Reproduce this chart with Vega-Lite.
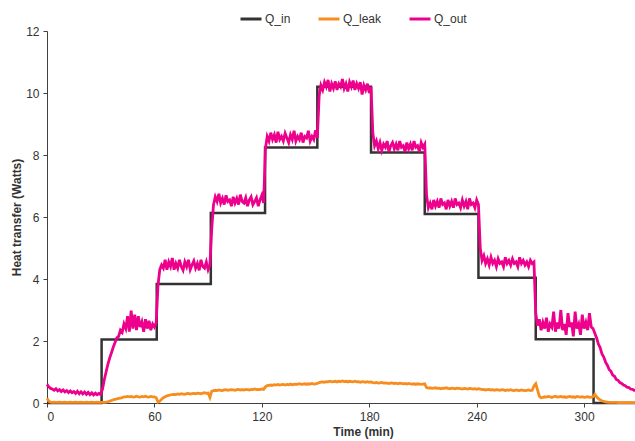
{
  "$schema": "https://vega.github.io/schema/vega-lite/v6.json",
  "width": 589,
  "height": 372,
  "autosize": {"type": "none"},
  "padding": {"left": 47, "top": 31, "right": 0, "bottom": 38},
  "background": "white",
  "config": {
    "view": {"stroke": null},
    "font": "Liberation Sans",
    "axis": {
      "grid": false,
      "domainColor": "#404040",
      "tickColor": "#404040",
      "tickSize": 4,
      "labelColor": "#333333",
      "labelFontSize": 12,
      "labelFont": "Liberation Sans",
      "titleFont": "Liberation Sans",
      "titleFontSize": 12,
      "titleFontWeight": "bold",
      "titleColor": "#333333"
    },
    "legend": {
      "labelFont": "Liberation Sans",
      "labelFontSize": 12,
      "labelColor": "#333333",
      "padding": 0
    }
  },
  "datasets": {
    "qin": [
      {"t": 0, "Q_in": 0},
      {"t": 30.5, "Q_in": 2.05},
      {"t": 61.3, "Q_in": 3.84},
      {"t": 91.5, "Q_in": 6.13},
      {"t": 121.8, "Q_in": 8.24},
      {"t": 151, "Q_in": 10.2},
      {"t": 181, "Q_in": 8.08},
      {"t": 211, "Q_in": 6.1},
      {"t": 241, "Q_in": 4.04},
      {"t": 273, "Q_in": 2.06},
      {"t": 305.3, "Q_in": 0},
      {"t": 329, "Q_in": 0}
    ],
    "noisy": [
      {"t":0,"Q_leak":0.15,"Q_out":0.60},{"t":1,"Q_leak":0.06,"Q_out":0.52},{"t":2,"Q_leak":0.03,"Q_out":0.47},{"t":3,"Q_leak":0.02,"Q_out":0.45},{"t":4,"Q_leak":0.03,"Q_out":0.41},{"t":5,"Q_leak":0.02,"Q_out":0.46},{"t":6,"Q_leak":0.02,"Q_out":0.39},{"t":7,"Q_leak":0.03,"Q_out":0.43},{"t":8,"Q_leak":0.02,"Q_out":0.37},{"t":9,"Q_leak":0.02,"Q_out":0.42},
      {"t":10,"Q_leak":0.03,"Q_out":0.36},{"t":11,"Q_leak":0.02,"Q_out":0.40},{"t":12,"Q_leak":0.02,"Q_out":0.34},{"t":13,"Q_leak":0.03,"Q_out":0.39},{"t":14,"Q_leak":0.02,"Q_out":0.33},{"t":15,"Q_leak":0.02,"Q_out":0.37},{"t":16,"Q_leak":0.03,"Q_out":0.31},{"t":17,"Q_leak":0.02,"Q_out":0.38},{"t":18,"Q_leak":0.02,"Q_out":0.30},{"t":19,"Q_leak":0.03,"Q_out":0.36},
      {"t":20,"Q_leak":0.02,"Q_out":0.29},{"t":21,"Q_leak":0.02,"Q_out":0.35},{"t":22,"Q_leak":0.03,"Q_out":0.28},{"t":23,"Q_leak":0.02,"Q_out":0.34},{"t":24,"Q_leak":0.02,"Q_out":0.27},{"t":25,"Q_leak":0.03,"Q_out":0.33},{"t":26,"Q_leak":0.02,"Q_out":0.26},{"t":27,"Q_leak":0.02,"Q_out":0.32},{"t":28,"Q_leak":0.03,"Q_out":0.27},{"t":29,"Q_leak":0.02,"Q_out":0.31},
      {"t":30,"Q_leak":0.02,"Q_out":0.28},{"t":31,"Q_leak":0.02,"Q_out":0.45},{"t":32,"Q_leak":0.02,"Q_out":0.75},{"t":33,"Q_leak":0.03,"Q_out":1.00},{"t":34,"Q_leak":0.04,"Q_out":1.25},{"t":35,"Q_leak":0.06,"Q_out":1.45},{"t":36,"Q_leak":0.08,"Q_out":1.62},{"t":37,"Q_leak":0.10,"Q_out":1.80},{"t":38,"Q_leak":0.12,"Q_out":1.95},{"t":39,"Q_leak":0.13,"Q_out":2.10},
      {"t":40,"Q_leak":0.15,"Q_out":2.15},{"t":41,"Q_leak":0.16,"Q_out":2.35},{"t":42,"Q_leak":0.17,"Q_out":2.28},{"t":43,"Q_leak":0.20,"Q_out":2.55},{"t":44,"Q_leak":0.20,"Q_out":2.40},{"t":45,"Q_leak":0.21,"Q_out":2.80},{"t":46,"Q_leak":0.20,"Q_out":2.30},{"t":47,"Q_leak":0.21,"Q_out":2.98},{"t":48,"Q_leak":0.19,"Q_out":2.40},{"t":49,"Q_leak":0.20,"Q_out":2.85},
      {"t":50,"Q_leak":0.22,"Q_out":2.35},{"t":51,"Q_leak":0.20,"Q_out":2.80},{"t":52,"Q_leak":0.19,"Q_out":2.45},{"t":53,"Q_leak":0.21,"Q_out":2.62},{"t":54,"Q_leak":0.20,"Q_out":2.30},{"t":55,"Q_leak":0.22,"Q_out":2.70},{"t":56,"Q_leak":0.20,"Q_out":2.40},{"t":57,"Q_leak":0.19,"Q_out":2.65},{"t":58,"Q_leak":0.21,"Q_out":2.35},{"t":59,"Q_leak":0.20,"Q_out":2.55},
      {"t":60,"Q_leak":0.20,"Q_out":2.45},{"t":61,"Q_leak":0.17,"Q_out":2.60},{"t":62,"Q_leak":0.03,"Q_out":3.80},{"t":63,"Q_leak":0.06,"Q_out":4.30},{"t":64,"Q_leak":0.12,"Q_out":4.45},{"t":65,"Q_leak":0.17,"Q_out":4.35},{"t":66,"Q_leak":0.20,"Q_out":4.62},{"t":67,"Q_leak":0.23,"Q_out":4.30},{"t":68,"Q_leak":0.25,"Q_out":4.55},{"t":69,"Q_leak":0.26,"Q_out":4.40},
      {"t":70,"Q_leak":0.27,"Q_out":4.68},{"t":71,"Q_leak":0.28,"Q_out":4.30},{"t":72,"Q_leak":0.27,"Q_out":4.50},{"t":73,"Q_leak":0.29,"Q_out":4.35},{"t":74,"Q_leak":0.28,"Q_out":4.62},{"t":75,"Q_leak":0.30,"Q_out":4.40},{"t":76,"Q_leak":0.29,"Q_out":4.28},{"t":77,"Q_leak":0.28,"Q_out":4.55},{"t":78,"Q_leak":0.30,"Q_out":4.40},{"t":79,"Q_leak":0.31,"Q_out":4.62},
      {"t":80,"Q_leak":0.29,"Q_out":4.30},{"t":81,"Q_leak":0.30,"Q_out":4.45},{"t":82,"Q_leak":0.31,"Q_out":4.58},{"t":83,"Q_leak":0.30,"Q_out":4.35},{"t":84,"Q_leak":0.32,"Q_out":4.50},{"t":85,"Q_leak":0.31,"Q_out":4.28},{"t":86,"Q_leak":0.30,"Q_out":4.62},{"t":87,"Q_leak":0.32,"Q_out":4.40},{"t":88,"Q_leak":0.33,"Q_out":4.35},{"t":89,"Q_leak":0.31,"Q_out":4.55},
      {"t":90,"Q_leak":0.32,"Q_out":4.30},{"t":91,"Q_leak":0.18,"Q_out":4.45},{"t":92,"Q_leak":0.38,"Q_out":5.60},{"t":93,"Q_leak":0.40,"Q_out":6.40},{"t":94,"Q_leak":0.41,"Q_out":6.65},{"t":95,"Q_leak":0.40,"Q_out":6.50},{"t":96,"Q_leak":0.42,"Q_out":6.75},{"t":97,"Q_leak":0.41,"Q_out":6.45},{"t":98,"Q_leak":0.40,"Q_out":6.60},{"t":99,"Q_leak":0.42,"Q_out":6.40},
      {"t":100,"Q_leak":0.43,"Q_out":6.70},{"t":101,"Q_leak":0.41,"Q_out":6.50},{"t":102,"Q_leak":0.42,"Q_out":6.55},{"t":103,"Q_leak":0.43,"Q_out":6.35},{"t":104,"Q_leak":0.42,"Q_out":6.65},{"t":105,"Q_leak":0.41,"Q_out":6.45},{"t":106,"Q_leak":0.43,"Q_out":6.60},{"t":107,"Q_leak":0.44,"Q_out":6.40},{"t":108,"Q_leak":0.42,"Q_out":6.72},{"t":109,"Q_leak":0.43,"Q_out":6.50},
      {"t":110,"Q_leak":0.42,"Q_out":6.45},{"t":111,"Q_leak":0.44,"Q_out":6.62},{"t":112,"Q_leak":0.43,"Q_out":6.35},{"t":113,"Q_leak":0.42,"Q_out":6.55},{"t":114,"Q_leak":0.44,"Q_out":6.65},{"t":115,"Q_leak":0.43,"Q_out":6.40},{"t":116,"Q_leak":0.45,"Q_out":6.50},{"t":117,"Q_leak":0.43,"Q_out":6.62},{"t":118,"Q_leak":0.44,"Q_out":6.35},{"t":119,"Q_leak":0.43,"Q_out":6.55},
      {"t":120,"Q_leak":0.45,"Q_out":6.70},{"t":121,"Q_leak":0.44,"Q_out":6.45},{"t":122,"Q_leak":0.52,"Q_out":8.20},{"t":123,"Q_leak":0.56,"Q_out":8.60},{"t":124,"Q_leak":0.57,"Q_out":8.45},{"t":125,"Q_leak":0.58,"Q_out":8.72},{"t":126,"Q_leak":0.57,"Q_out":8.50},{"t":127,"Q_leak":0.59,"Q_out":8.65},{"t":128,"Q_leak":0.58,"Q_out":8.40},{"t":129,"Q_leak":0.60,"Q_out":8.75},
      {"t":130,"Q_leak":0.58,"Q_out":8.50},{"t":131,"Q_leak":0.59,"Q_out":8.60},{"t":132,"Q_leak":0.60,"Q_out":8.45},{"t":133,"Q_leak":0.58,"Q_out":8.70},{"t":134,"Q_leak":0.60,"Q_out":8.55},{"t":135,"Q_leak":0.59,"Q_out":8.40},{"t":136,"Q_leak":0.61,"Q_out":8.65},{"t":137,"Q_leak":0.59,"Q_out":8.50},{"t":138,"Q_leak":0.60,"Q_out":8.78},{"t":139,"Q_leak":0.61,"Q_out":8.45},
      {"t":140,"Q_leak":0.60,"Q_out":8.60},{"t":141,"Q_leak":0.62,"Q_out":8.50},{"t":142,"Q_leak":0.60,"Q_out":8.72},{"t":143,"Q_leak":0.61,"Q_out":8.40},{"t":144,"Q_leak":0.62,"Q_out":8.60},{"t":145,"Q_leak":0.60,"Q_out":8.55},{"t":146,"Q_leak":0.62,"Q_out":8.78},{"t":147,"Q_leak":0.61,"Q_out":8.45},{"t":148,"Q_leak":0.63,"Q_out":8.60},{"t":149,"Q_leak":0.61,"Q_out":8.50},
      {"t":150,"Q_leak":0.62,"Q_out":8.80},{"t":151,"Q_leak":0.63,"Q_out":8.55},{"t":152,"Q_leak":0.66,"Q_out":9.90},{"t":153,"Q_leak":0.67,"Q_out":10.25},{"t":154,"Q_leak":0.68,"Q_out":10.10},{"t":155,"Q_leak":0.67,"Q_out":10.35},{"t":156,"Q_leak":0.69,"Q_out":10.20},{"t":157,"Q_leak":0.68,"Q_out":10.42},{"t":158,"Q_leak":0.70,"Q_out":10.05},{"t":159,"Q_leak":0.68,"Q_out":10.30},
      {"t":160,"Q_leak":0.69,"Q_out":10.15},{"t":161,"Q_leak":0.70,"Q_out":10.38},{"t":162,"Q_leak":0.68,"Q_out":10.10},{"t":163,"Q_leak":0.70,"Q_out":10.30},{"t":164,"Q_leak":0.69,"Q_out":10.20},{"t":165,"Q_leak":0.71,"Q_out":10.45},{"t":166,"Q_leak":0.69,"Q_out":10.15},{"t":167,"Q_leak":0.70,"Q_out":10.30},{"t":168,"Q_leak":0.68,"Q_out":10.05},{"t":169,"Q_leak":0.70,"Q_out":10.35},
      {"t":170,"Q_leak":0.69,"Q_out":10.20},{"t":171,"Q_leak":0.68,"Q_out":10.40},{"t":172,"Q_leak":0.70,"Q_out":10.10},{"t":173,"Q_leak":0.68,"Q_out":10.30},{"t":174,"Q_leak":0.69,"Q_out":10.15},{"t":175,"Q_leak":0.67,"Q_out":10.35},{"t":176,"Q_leak":0.69,"Q_out":9.95},{"t":177,"Q_leak":0.68,"Q_out":10.25},{"t":178,"Q_leak":0.67,"Q_out":10.10},{"t":179,"Q_leak":0.69,"Q_out":10.30},
      {"t":180,"Q_leak":0.67,"Q_out":10.00},{"t":181,"Q_leak":0.68,"Q_out":10.20},{"t":182,"Q_leak":0.66,"Q_out":8.70},{"t":183,"Q_leak":0.65,"Q_out":8.30},{"t":184,"Q_leak":0.66,"Q_out":8.45},{"t":185,"Q_leak":0.64,"Q_out":8.20},{"t":186,"Q_leak":0.65,"Q_out":8.40},{"t":187,"Q_leak":0.66,"Q_out":8.15},{"t":188,"Q_leak":0.64,"Q_out":8.35},{"t":189,"Q_leak":0.65,"Q_out":8.25},
      {"t":190,"Q_leak":0.64,"Q_out":8.45},{"t":191,"Q_leak":0.63,"Q_out":8.10},{"t":192,"Q_leak":0.65,"Q_out":8.30},{"t":193,"Q_leak":0.64,"Q_out":8.40},{"t":194,"Q_leak":0.63,"Q_out":8.20},{"t":195,"Q_leak":0.64,"Q_out":8.35},{"t":196,"Q_leak":0.62,"Q_out":8.15},{"t":197,"Q_leak":0.64,"Q_out":8.45},{"t":198,"Q_leak":0.63,"Q_out":8.25},{"t":199,"Q_leak":0.62,"Q_out":8.30},
      {"t":200,"Q_leak":0.63,"Q_out":8.10},{"t":201,"Q_leak":0.61,"Q_out":8.40},{"t":202,"Q_leak":0.63,"Q_out":8.20},{"t":203,"Q_leak":0.62,"Q_out":8.35},{"t":204,"Q_leak":0.61,"Q_out":8.15},{"t":205,"Q_leak":0.62,"Q_out":8.45},{"t":206,"Q_leak":0.60,"Q_out":8.25},{"t":207,"Q_leak":0.62,"Q_out":8.30},{"t":208,"Q_leak":0.61,"Q_out":8.10},{"t":209,"Q_leak":0.60,"Q_out":8.40},
      {"t":210,"Q_leak":0.61,"Q_out":8.25},{"t":211,"Q_leak":0.62,"Q_out":8.35},{"t":212,"Q_leak":0.50,"Q_out":6.70},{"t":213,"Q_leak":0.48,"Q_out":6.30},{"t":214,"Q_leak":0.49,"Q_out":6.45},{"t":215,"Q_leak":0.47,"Q_out":6.25},{"t":216,"Q_leak":0.48,"Q_out":6.55},{"t":217,"Q_leak":0.49,"Q_out":6.35},{"t":218,"Q_leak":0.47,"Q_out":6.50},{"t":219,"Q_leak":0.48,"Q_out":6.30},
      {"t":220,"Q_leak":0.46,"Q_out":6.60},{"t":221,"Q_leak":0.48,"Q_out":6.40},{"t":222,"Q_leak":0.47,"Q_out":6.45},{"t":223,"Q_leak":0.49,"Q_out":6.25},{"t":224,"Q_leak":0.47,"Q_out":6.55},{"t":225,"Q_leak":0.46,"Q_out":6.35},{"t":226,"Q_leak":0.48,"Q_out":6.50},{"t":227,"Q_leak":0.47,"Q_out":6.30},{"t":228,"Q_leak":0.46,"Q_out":6.60},{"t":229,"Q_leak":0.48,"Q_out":6.40},
      {"t":230,"Q_leak":0.47,"Q_out":6.45},{"t":231,"Q_leak":0.46,"Q_out":6.30},{"t":232,"Q_leak":0.45,"Q_out":6.55},{"t":233,"Q_leak":0.47,"Q_out":6.35},{"t":234,"Q_leak":0.46,"Q_out":6.50},{"t":235,"Q_leak":0.45,"Q_out":6.25},{"t":236,"Q_leak":0.47,"Q_out":6.60},{"t":237,"Q_leak":0.46,"Q_out":6.40},{"t":238,"Q_leak":0.45,"Q_out":6.45},{"t":239,"Q_leak":0.46,"Q_out":6.30},
      {"t":240,"Q_leak":0.44,"Q_out":6.55},{"t":241,"Q_leak":0.46,"Q_out":6.40},{"t":242,"Q_leak":0.45,"Q_out":5.00},{"t":243,"Q_leak":0.43,"Q_out":4.60},{"t":244,"Q_leak":0.44,"Q_out":4.75},{"t":245,"Q_leak":0.42,"Q_out":4.50},{"t":246,"Q_leak":0.43,"Q_out":4.65},{"t":247,"Q_leak":0.44,"Q_out":4.45},{"t":248,"Q_leak":0.42,"Q_out":4.70},{"t":249,"Q_leak":0.43,"Q_out":4.50},
      {"t":250,"Q_leak":0.41,"Q_out":4.60},{"t":251,"Q_leak":0.43,"Q_out":4.40},{"t":252,"Q_leak":0.42,"Q_out":4.65},{"t":253,"Q_leak":0.41,"Q_out":4.50},{"t":254,"Q_leak":0.43,"Q_out":4.55},{"t":255,"Q_leak":0.42,"Q_out":4.40},{"t":256,"Q_leak":0.40,"Q_out":4.70},{"t":257,"Q_leak":0.42,"Q_out":4.50},{"t":258,"Q_leak":0.41,"Q_out":4.60},{"t":259,"Q_leak":0.43,"Q_out":4.45},
      {"t":260,"Q_leak":0.41,"Q_out":4.65},{"t":261,"Q_leak":0.40,"Q_out":4.50},{"t":262,"Q_leak":0.42,"Q_out":4.55},{"t":263,"Q_leak":0.41,"Q_out":4.40},{"t":264,"Q_leak":0.40,"Q_out":4.70},{"t":265,"Q_leak":0.42,"Q_out":4.50},{"t":266,"Q_leak":0.41,"Q_out":4.60},{"t":267,"Q_leak":0.40,"Q_out":4.45},{"t":268,"Q_leak":0.41,"Q_out":4.55},{"t":269,"Q_leak":0.42,"Q_out":4.40},
      {"t":270,"Q_leak":0.40,"Q_out":4.60},{"t":271,"Q_leak":0.41,"Q_out":4.50},{"t":272,"Q_leak":0.55,"Q_out":4.55},{"t":273,"Q_leak":0.62,"Q_out":2.90},{"t":274,"Q_leak":0.42,"Q_out":2.50},{"t":275,"Q_leak":0.22,"Q_out":2.70},{"t":276,"Q_leak":0.17,"Q_out":2.35},{"t":277,"Q_leak":0.18,"Q_out":2.60},{"t":278,"Q_leak":0.20,"Q_out":2.40},{"t":279,"Q_leak":0.19,"Q_out":2.75},
      {"t":280,"Q_leak":0.21,"Q_out":2.30},{"t":281,"Q_leak":0.20,"Q_out":2.55},{"t":282,"Q_leak":0.18,"Q_out":2.45},{"t":283,"Q_leak":0.20,"Q_out":2.95},{"t":284,"Q_leak":0.22,"Q_out":2.30},{"t":285,"Q_leak":0.19,"Q_out":2.60},{"t":286,"Q_leak":0.20,"Q_out":2.40},{"t":287,"Q_leak":0.21,"Q_out":3.00},{"t":288,"Q_leak":0.19,"Q_out":2.35},{"t":289,"Q_leak":0.20,"Q_out":2.55},
      {"t":290,"Q_leak":0.18,"Q_out":2.20},{"t":291,"Q_leak":0.20,"Q_out":2.90},{"t":292,"Q_leak":0.21,"Q_out":2.45},{"t":293,"Q_leak":0.19,"Q_out":2.60},{"t":294,"Q_leak":0.20,"Q_out":2.15},{"t":295,"Q_leak":0.18,"Q_out":2.95},{"t":296,"Q_leak":0.21,"Q_out":2.40},{"t":297,"Q_leak":0.20,"Q_out":2.55},{"t":298,"Q_leak":0.19,"Q_out":2.20},{"t":299,"Q_leak":0.20,"Q_out":2.85},
      {"t":300,"Q_leak":0.18,"Q_out":2.40},{"t":301,"Q_leak":0.19,"Q_out":2.60},{"t":302,"Q_leak":0.20,"Q_out":2.35},{"t":303,"Q_leak":0.18,"Q_out":2.90},{"t":304,"Q_leak":0.19,"Q_out":2.45},{"t":305,"Q_leak":0.20,"Q_out":2.40},{"t":306,"Q_leak":0.28,"Q_out":2.25},{"t":307,"Q_leak":0.20,"Q_out":2.10},{"t":308,"Q_leak":0.14,"Q_out":1.90},{"t":309,"Q_leak":0.10,"Q_out":1.78},
      {"t":310,"Q_leak":0.07,"Q_out":1.58},{"t":311,"Q_leak":0.05,"Q_out":1.48},{"t":312,"Q_leak":0.04,"Q_out":1.32},{"t":313,"Q_leak":0.03,"Q_out":1.22},{"t":314,"Q_leak":0.02,"Q_out":1.08},{"t":315,"Q_leak":0.02,"Q_out":1.02},{"t":316,"Q_leak":0.02,"Q_out":0.90},{"t":317,"Q_leak":0.02,"Q_out":0.86},{"t":318,"Q_leak":0.02,"Q_out":0.76},{"t":319,"Q_leak":0.01,"Q_out":0.73},
      {"t":320,"Q_leak":0.01,"Q_out":0.66},{"t":321,"Q_leak":0.01,"Q_out":0.63},{"t":322,"Q_leak":0.01,"Q_out":0.58},{"t":323,"Q_leak":0.01,"Q_out":0.56},{"t":324,"Q_leak":0.01,"Q_out":0.51},{"t":325,"Q_leak":0.01,"Q_out":0.50},{"t":326,"Q_leak":0.01,"Q_out":0.45},{"t":327,"Q_leak":0.01,"Q_out":0.44},{"t":328,"Q_leak":0.01,"Q_out":0.41},{"t":329,"Q_leak":0.01,"Q_out":0.40}
    ]
  },
  "encoding": {
    "x": {
      "field": "t",
      "type": "quantitative",
      "scale": {"domain": [0, 329], "nice": false},
      "axis": {"values": [0, 60, 120, 180, 240, 300], "title": "Time (min)", "labelPadding": 4, "titlePadding": 4, "titleX": 316}
    },
    "y": {
      "field": "value",
      "type": "quantitative",
      "scale": {"domain": [0, 12], "nice": false},
      "axis": {"values": [0, 2, 4, 6, 8, 10, 12], "title": "Heat transfer (Watts)", "labelPadding": 4, "titlePadding": 2}
    },
    "color": {
      "field": "series",
      "type": "nominal",
      "scale": {"domain": ["Q_in", "Q_leak", "Q_out"], "range": ["#333333", "#F78D1E", "#EC008C"]},
      "legend": {
        "title": null,
        "orient": "none",
        "direction": "horizontal",
        "legendX": 192,
        "legendY": -24,
        "symbolType": "stroke",
        "symbolSize": 441,
        "symbolStrokeWidth": 3,
        "labelOffset": 2,
        "columnPadding": 21
      }
    }
  },
  "layer": [
    {
      "data": {"values": [{}]},
      "mark": {"type": "rule", "color": "#A89C9C", "strokeWidth": 1},
      "encoding": {"x": null, "color": null, "y": {"datum": 12}}
    },
    {
      "data": {"name": "qin"},
      "transform": [{"fold": ["Q_in"], "as": ["series", "value"]}],
      "mark": {"type": "line", "strokeWidth": 2.5, "interpolate": "step-after"}
    },
    {
      "data": {"name": "noisy"},
      "transform": [{"fold": ["Q_leak", "Q_out"], "as": ["series", "value"]}],
      "mark": {"type": "line", "strokeWidth": 2.8}
    }
  ]
}
